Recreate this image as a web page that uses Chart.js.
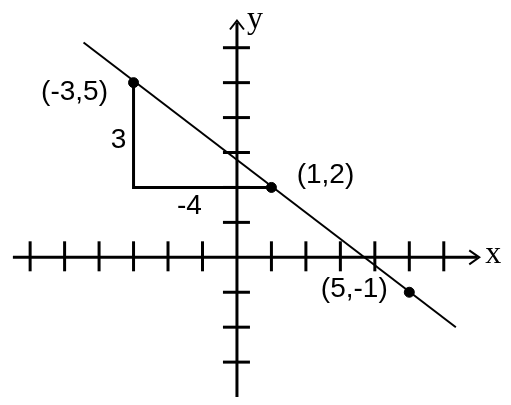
<!DOCTYPE html>
<html>
<head>
<meta charset="utf-8">
<script src="https://cdn.jsdelivr.net/npm/chart.js@4"></script>
<style>
  html, body { margin: 0; padding: 0; background: #ffffff; }
  #wrap { width: 511px; height: 405px; }
</style>
</head>
<body>
<div id="wrap"><canvas id="c" width="511" height="405"></canvas></div>
<script>
// ---- data ----
const pointX = [-3, 1, 5];
const pointY = [5, 2, -1];
const lineX = [-4.45, 6.35];
const lineY = [6.15, -2.0];
const triangleX = [-3, -3, 1];
const triangleY = [5, 2, 2];
const legLabels = ['3', '-4'];
const xTicks = [-6, -5, -4, -3, -2, -1, 1, 2, 3, 4, 5, 6];
const yTicks = [-3, -2, -1, 1, 2, 3, 4, 5, 6];
const xAxisRange = [-6.5, 7.0];
const yAxisRange = [-4.0, 6.75];
const axisNames = ['x', 'y'];

const toPts = (xs, ys) => xs.map((x, i) => ({ x: x, y: ys[i] }));

const axesPlugin = {
  id: 'axesPlugin',
  beforeDatasetsDraw(chart) {
    const ctx = chart.ctx;
    const xs = chart.scales.x, ys = chart.scales.y;
    const x0 = xs.getPixelForValue(0), y0 = ys.getPixelForValue(0);
    ctx.save();
    ctx.strokeStyle = '#000';
    ctx.lineCap = 'butt';
    ctx.lineWidth = 3;
    // x axis
    const xa = xs.getPixelForValue(xAxisRange[0]);
    const xb = xs.getPixelForValue(xAxisRange[1]);
    ctx.beginPath(); ctx.moveTo(xa, y0); ctx.lineTo(xb - 1, y0); ctx.stroke();
    // y axis
    const ya = ys.getPixelForValue(yAxisRange[0]);
    const yb = ys.getPixelForValue(yAxisRange[1]);
    ctx.beginPath(); ctx.moveTo(x0, ya); ctx.lineTo(x0, yb + 1); ctx.stroke();
    // ticks
    xTicks.forEach(v => {
      const px = xs.getPixelForValue(v);
      ctx.beginPath(); ctx.moveTo(px, y0 - 16); ctx.lineTo(px, y0 + 14); ctx.stroke();
    });
    yTicks.forEach(v => {
      const py = ys.getPixelForValue(v);
      ctx.beginPath(); ctx.moveTo(x0 - 14, py); ctx.lineTo(x0 + 13, py); ctx.stroke();
    });
    // arrowheads (open chevrons)
    ctx.lineWidth = 2;
    ctx.beginPath();
    ctx.moveTo(xb - 9, y0 - 7); ctx.lineTo(xb + 1, y0); ctx.lineTo(xb - 9, y0 + 7);
    ctx.stroke();
    ctx.beginPath();
    ctx.moveTo(x0 - 7, yb + 8); ctx.lineTo(x0, yb - 1); ctx.lineTo(x0 + 7, yb + 8);
    ctx.stroke();
    // axis names
    ctx.fillStyle = '#000';
    ctx.font = '32px "Liberation Serif"';
    ctx.textAlign = 'left';
    ctx.textBaseline = 'middle';
    ctx.fillText(axisNames[0], xb + 7, y0 - 3);
    ctx.textBaseline = 'alphabetic';
    ctx.fillText(axisNames[1], x0 + 10, yb + 6);
    ctx.restore();
  },
  afterDatasetsDraw(chart) {
    const ctx = chart.ctx;
    const xs = chart.scales.x, ys = chart.scales.y;
    ctx.save();
    ctx.fillStyle = '#000';
    ctx.font = '28px "Liberation Sans"';
    ctx.textAlign = 'center';
    ctx.textBaseline = 'middle';
    const offsets = [[-59, 10], [54, -12], [-55, -3]];
    pointX.forEach((x, i) => {
      const px = xs.getPixelForValue(x), py = ys.getPixelForValue(pointY[i]);
      ctx.fillText('(' + x + ',' + pointY[i] + ')', px + offsets[i][0], py + offsets[i][1]);
    });
    // leg labels
    const vx = xs.getPixelForValue(triangleX[0]);
    const vy = ys.getPixelForValue((triangleY[0] + triangleY[1]) / 2);
    ctx.fillText(legLabels[0], vx - 15, vy + 5);
    const hx = xs.getPixelForValue((triangleX[1] + triangleX[2]) / 2);
    const hy = ys.getPixelForValue(triangleY[1]);
    ctx.fillText(legLabels[1], hx - 13, hy + 19);
    ctx.restore();
  }
};

new Chart(document.getElementById('c'), {
  type: 'scatter',
  data: {
    datasets: [
      {
        type: 'line',
        data: toPts(lineX, lineY),
        borderColor: '#000',
        borderWidth: 2,
        pointRadius: 0,
        fill: false,
        tension: 0
      },
      {
        type: 'line',
        data: toPts(triangleX, triangleY),
        borderColor: '#000',
        borderWidth: 3,
        pointRadius: 0,
        fill: false,
        tension: 0
      },
      {
        data: toPts(pointX, pointY),
        backgroundColor: '#000',
        borderColor: '#000',
        pointRadius: 5,
        pointStyle: 'circle'
      }
    ]
  },
  options: {
    responsive: false,
    animation: false,
    devicePixelRatio: 1,
    layout: { padding: 0 },
    plugins: { legend: { display: false }, tooltip: { enabled: false } },
    scales: {
      x: { type: 'linear', min: -6.70, max: 7.776, display: false },
      y: { type: 'linear', min: -4.056, max: 7.194, display: false }
    }
  },
  plugins: [axesPlugin]
});
</script>
</body>
</html>
